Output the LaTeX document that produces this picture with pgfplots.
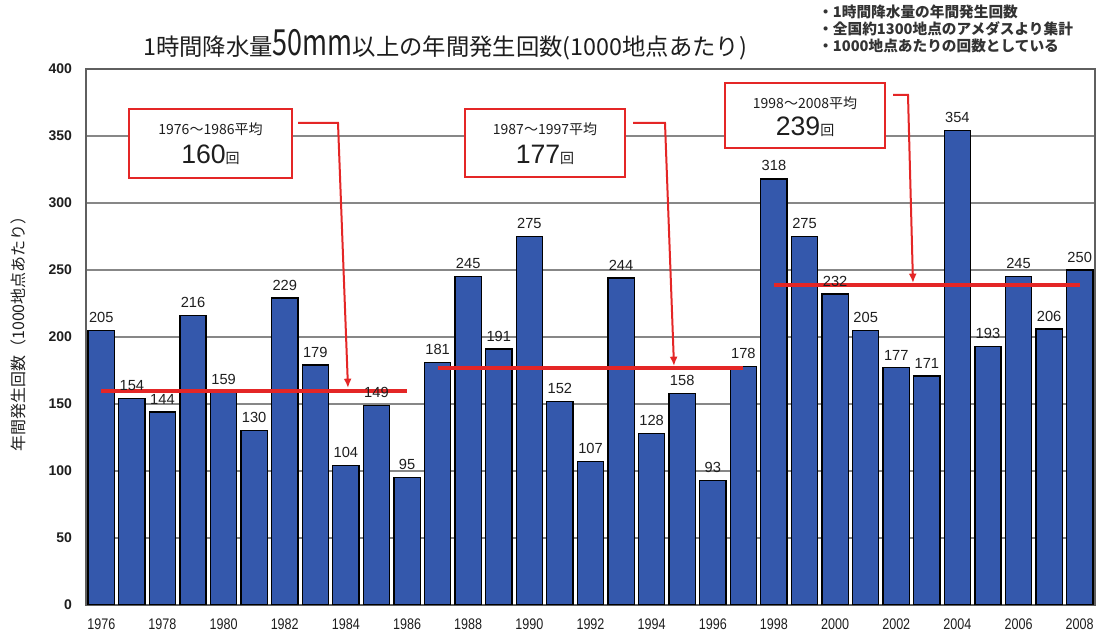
\documentclass[border=0pt]{standalone}
\usepackage{fontspec}
\setmainfont{Liberation Sans}
\newfontfamily\jp{Noto Sans CJK JP}
\newfontfamily\narrow[FakeStretch=0.82]{Liberation Sans}
\usepackage{graphicx}
\usepackage{pgfplots}
\pgfplotsset{compat=1.18}
\usetikzlibrary{arrows.meta}

\definecolor{barblue}{RGB}{52,88,172}
\definecolor{avgred}{RGB}{228,38,38}
\definecolor{gridgray}{RGB}{135,135,135}
\definecolor{txt}{RGB}{30,30,30}

\begin{document}
\begin{tikzpicture}
% page = 1101 x 639 px, 1 px = 0.75pt
\path[use as bounding box] (0,0) rectangle (825.75pt,479.25pt);
\fill[white] (0,0) rectangle (825.75pt,479.25pt);

\begin{axis}[
    at={(64.5pt,25.5pt)}, anchor=south west,
    scale only axis,
    width=756.75pt, height=402pt,
    xmin=-0.5, xmax=32.5,
    ymin=0, ymax=400,
    ytick={0,50,...,400},
    xtick={0,2,...,32},
    xticklabels={1976,1978,1980,1982,1984,1986,1988,1990,1992,1994,1996,1998,2000,2002,2004,2006,2008},
    ymajorgrids=true,
    grid style={gridgray, line width=1.1pt},
    axis line style={gridgray!70!black, line width=1.1pt},
    major tick length=0pt,
    /pgf/number format/assume math mode=true,
    yticklabel style={font=\bfseries\fontsize{10.5}{12}\selectfont, text=txt, xshift=-7pt},
    xticklabel style={font=\narrow\fontsize{11.5}{12}\selectfont, text=txt, yshift=-7pt},
]
% yearly counts, 1976 (x=0) ... 2008 (x=32)
\addplot[ybar, bar width=0.86, fill=barblue, draw=black, line width=1pt,
    nodes near coords,
    every node near coord/.append style={font=\fontsize{11}{12}\selectfont, text=txt, yshift=2pt}]
    coordinates {
    (0,205) (1,154) (2,144) (3,216) (4,159) (5,130) (6,229) (7,179) (8,104) (9,149) (10,95)
    (11,181) (12,245) (13,191) (14,275) (15,152) (16,107) (17,244) (18,128) (19,158) (20,93) (21,178)
    (22,318) (23,275) (24,232) (25,205) (26,177) (27,171) (28,354) (29,193) (30,245) (31,206) (32,250)
    };
% period averages
\addplot[avgred, line width=3pt] coordinates {(0,160) (10,160)};
\addplot[avgred, line width=3pt] coordinates {(11,177) (21,177)};
\addplot[avgred, line width=3pt] coordinates {(22,239) (32,239)};
\end{axis}

\begin{scope}[x=0.75pt, y=-0.75pt, shift={(0pt,479.25pt)}]
% title
\node[text=txt, inner sep=0pt] at (445,45)
  {\jp\fontsize{17.5}{20}\selectfont 1時間降水量{\fontsize{27}{28}\selectfont\scalebox{0.75}[1]{50mm}}以上の年間発生回数(1000地点あたり)};
% notes
\begin{scope}[every node/.style={anchor=west, inner sep=0pt, text=black!80, font=\jp\bfseries\fontsize{11}{12}\selectfont}]
\node at (818,12) {・1時間降水量の年間発生回数};
\node at (818,29) {・全国約1300地点のアメダスより集計};
\node at (818,46) {・1000地点あたりの回数としている};
\end{scope}
% y label
\node[rotate=90, text=txt, inner sep=0pt, font=\jp\fontsize{12}{14}\selectfont] at (18,330) {年間発生回数（1000地点あたり）};
% boxes
\draw[avgred, line width=1.5pt, fill=white] (129,109) rectangle (292,178);
\node[text=txt, inner sep=0pt, font=\jp\fontsize{10.5}{12}\selectfont] at (210.5,129) {1976～1986平均};
\node[text=txt, inner sep=0pt] at (210.5,155) {\fontsize{20}{20}\selectfont 160{\jp\fontsize{10.5}{12}\selectfont 回}};
\draw[avgred, line width=1.5pt, fill=white] (465,109) rectangle (625,177);
\node[text=txt, inner sep=0pt, font=\jp\fontsize{10.5}{12}\selectfont] at (545,129) {1987～1997平均};
\node[text=txt, inner sep=0pt] at (545,155) {\fontsize{20}{20}\selectfont 177{\jp\fontsize{10.5}{12}\selectfont 回}};
\draw[avgred, line width=1.5pt, fill=white] (725,83) rectangle (885,148);
\node[text=txt, inner sep=0pt, font=\jp\fontsize{10.5}{12}\selectfont] at (805,103) {1998～2008平均};
\node[text=txt, inner sep=0pt] at (805,127) {\fontsize{20}{20}\selectfont 239{\jp\fontsize{10.5}{12}\selectfont 回}};
% arrows
\begin{scope}[avgred, line width=1.5pt, -{Latex[length=7pt,width=6pt]}]
\draw (298,123) -- (338,123) -- (348,388);
\draw (633,123) -- (665,123) -- (674,366);
\draw (893,95) -- (908,95) -- (913,283);
\end{scope}
\end{scope}
\end{tikzpicture}
\end{document}
